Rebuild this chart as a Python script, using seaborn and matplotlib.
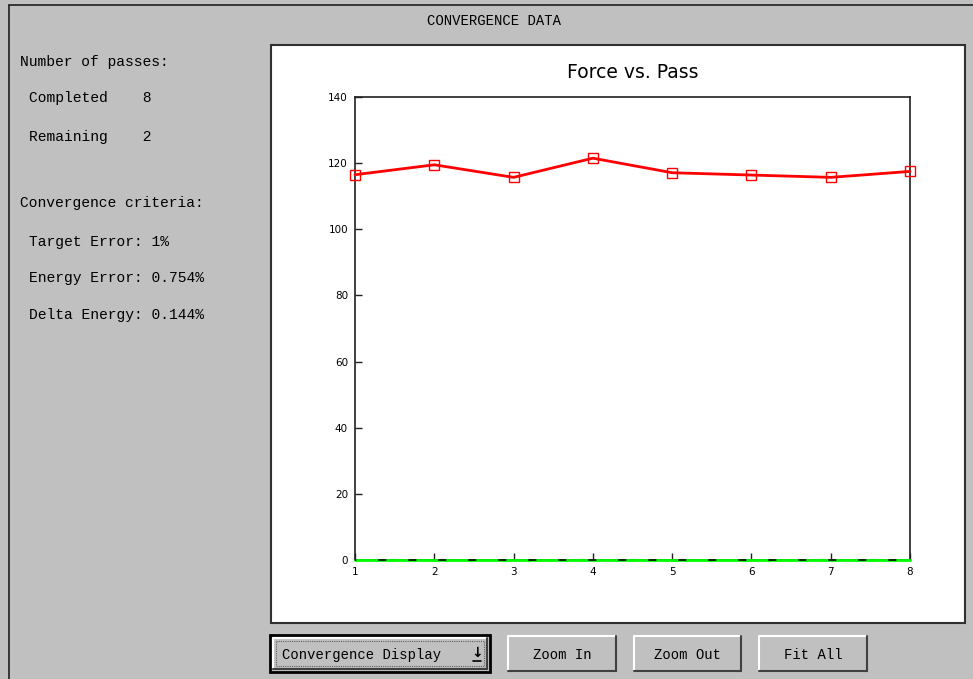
import matplotlib
matplotlib.use("Agg")
import matplotlib.pyplot as plt
from matplotlib.patches import Rectangle
import seaborn as sns
import pandas as pd

# data
passes = [1, 2, 3, 4, 5, 6, 7, 8]
force = [116.5, 119.5, 115.7, 121.5, 117.1, 116.4, 115.7, 117.5]
zero_force = [0, 0, 0, 0, 0, 0, 0, 0]
y_ticks = [0, 20, 40, 60, 80, 100, 120, 140]

panel_lines = [
    ("Number of passes:", 20, 62),
    ("Completed    8", 29, 98),
    ("Remaining    2", 29, 137),
    ("Convergence criteria:", 20, 203),
    ("Target Error: 1%", 29, 242),
    ("Energy Error: 0.754%", 29, 278),
    ("Delta Energy: 0.144%", 29, 315),
]
buttons = ["Zoom In", "Zoom Out", "Fit All"]
button_x = [(508, 616), (634, 741), (759, 867)]

df = pd.DataFrame({"Pass": passes, "Force": force, "Zero": zero_force})

sns.set_style("white")
plt.rcParams["font.family"] = ["Liberation Mono", "DejaVu Sans Mono"]
plt.rcParams["text.color"] = "black"
mono = ["Liberation Mono", "DejaVu Sans Mono"]
sans = ["DejaVu Sans"]
gray = "#c0c0c0"

W, H = 973, 679
fig = plt.figure(figsize=(W / 100, H / 100), dpi=100)
fig.patch.set_facecolor(gray)

# background "window" drawn in pixel coordinates
bg = fig.add_axes([0, 0, 1, 1])
bg.set_xlim(0, W)
bg.set_ylim(H, 0)
bg.axis("off")
bg.plot([9, W], [5, 5], color="#202020", lw=1.2)
bg.plot([9, 9], [5, H], color="#202020", lw=1.2)
bg.text(494, 21, "CONVERGENCE DATA", ha="center", va="center", fontsize=10,
        family=mono, color="black")

for txt, x, y in panel_lines:
    bg.text(x, y, txt, ha="left", va="center", fontsize=10.5, family=mono, color="black")

# white plot panel
bg.add_patch(Rectangle((271, 45), 694, 578, facecolor="white", edgecolor="#303030", lw=1.5))


def bevel(x0, x1, y0, y1):
    bg.add_patch(Rectangle((x0, y0), x1 - x0, y1 - y0, facecolor=gray, edgecolor="none"))
    bg.plot([x0, x1], [y0, y0], color="white", lw=1.5)
    bg.plot([x0, x0], [y0, y1], color="white", lw=1.5)
    bg.plot([x0, x1], [y1, y1], color="#404040", lw=1.5)
    bg.plot([x1, x1], [y0, y1], color="#404040", lw=1.5)


# convergence display dropdown with focus frame
bg.add_patch(Rectangle((270, 635), 220, 37, facecolor="none", edgecolor="black", lw=2))
bevel(273, 487, 638, 669)
bg.add_patch(Rectangle((276, 641), 208, 25, facecolor="none", edgecolor="#606060",
                       lw=0.8, linestyle=(0, (1, 1))))
bg.text(282, 655, "Convergence Display", ha="left", va="center", fontsize=10,
        family=mono, color="black")
bg.text(477, 653, "\u2193", ha="center", va="center", fontsize=10, fontweight="bold",
        family=sans, color="black")
bg.plot([473, 481], [661, 661], color="black", lw=1.2)

for label, (x0, x1) in zip(buttons, button_x):
    bevel(x0, x1, 636, 671)
    bg.text((x0 + x1) / 2, 655, label, ha="center", va="center", fontsize=10,
            family=mono, color="black")

# the chart itself
ax = fig.add_axes([355 / W, 1 - 560 / H, 555 / W, 463 / H], zorder=3)
ax.set_facecolor("white")
sns.lineplot(data=df, x="Pass", y="Zero", ax=ax, color="#00ff00", lw=2,
             clip_on=False, zorder=4)
ax.plot(df["Pass"], df["Zero"], color="black", lw=1.2, linestyle=(4, (4.8, 13.2)),
        clip_on=False, zorder=5)
sns.lineplot(data=df, x="Pass", y="Force", ax=ax, color="red", lw=2,
             marker="s", markersize=6.5, markerfacecolor="none",
             markeredgecolor="red", markeredgewidth=1, clip_on=False, zorder=6)

ax.set_xlim(1, 8)
ax.set_ylim(0, 140)
ax.set_xticks(passes)
ax.set_yticks(y_ticks)
ax.set_xlabel("")
ax.set_ylabel("")
for s in ax.spines.values():
    s.set_color("#202020")
    s.set_linewidth(1.2)
ax.tick_params(direction="in", length=5, width=1, color="#202020", pad=5,
               labelsize=7.5, labelcolor="black", top=False, right=False,
               left=True, bottom=True)
for lab in ax.get_xticklabels() + ax.get_yticklabels():
    lab.set_family(sans)
ax.set_title("Force vs. Pass", fontsize=13.5, family=sans, color="black", pad=14)

fig.savefig("out.png", dpi=100, facecolor=gray)
